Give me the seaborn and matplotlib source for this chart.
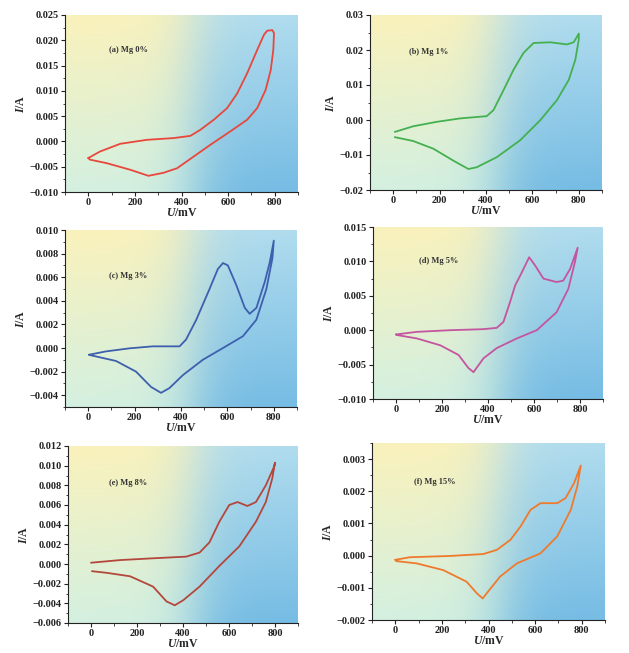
import numpy as np
import pandas as pd
import matplotlib
matplotlib.use("Agg")
import matplotlib.pyplot as plt
import seaborn as sns
from matplotlib.ticker import AutoMinorLocator, FormatStrFormatter

sns.set_theme(style="ticks")
plt.rcParams['font.family'] = ['Liberation Serif', 'DejaVu Serif']
plt.rcParams['font.weight'] = 'bold'
plt.rcParams['mathtext.fontset'] = 'custom'
plt.rcParams['mathtext.it'] = 'Liberation Serif:italic:bold'
plt.rcParams['mathtext.rm'] = 'Liberation Serif:bold'

# ---------------- data ----------------
labels = ["(a) Mg 0%", "(b) Mg 1%", "(c) Mg 3%", "(d) Mg 5%", "(e) Mg 8%", "(f) Mg 15%"]
colors = ["#e8473c", "#45b04f", "#3d5fae", "#c4559f", "#b4473c", "#f07a2c"]

u_a = [0, 50, 137, 252, 366, 438, 481, 539, 596, 639, 682, 725, 754, 768, 790, 797,
       794, 783, 761, 725, 682, 610, 524, 452, 381, 323, 258, 180, 79, 7, 0]
i_a = [-0.00329, -0.0020, -0.00047, 0.00032, 0.00066, 0.0011, 0.0023, 0.0043, 0.0066, 0.0095, 0.0135, 0.0181, 0.0211, 0.0219, 0.0220, 0.0214,
       0.0181, 0.0141, 0.0102, 0.0066, 0.0043, 0.0020, -0.00066, -0.0030, -0.0053, -0.0062, -0.0068, -0.0056, -0.0043, -0.0036, -0.00329]

u_b = [7, 86, 187, 288, 403, 432, 476, 519, 562, 605, 677, 749, 778, 800,
       800, 785, 757, 706, 634, 547, 447, 360, 324, 259, 173, 86, 7]
i_b = [-0.0034, -0.0018, -0.00053, 0.00045, 0.0011, 0.0028, 0.0086, 0.0144, 0.0192, 0.0220, 0.0222, 0.0216, 0.0222, 0.0247,
       0.0230, 0.0172, 0.0115, 0.0057, -0.00004, -0.0058, -0.0106, -0.0135, -0.0140, -0.0116, -0.0082, -0.0060, -0.0049]

u_c = [4, 76, 177, 278, 394, 422, 466, 523, 559, 581, 602, 639, 675, 696, 725, 761, 783, 800,
       794, 768, 725, 667, 581, 494, 408, 350, 314, 271, 206, 120, 19, 4]
i_c = [-0.00057, -0.00029, -0.00003, 0.00014, 0.00014, 0.00072, 0.0024, 0.0050, 0.0067, 0.0072, 0.0070, 0.0053, 0.0034, 0.0029, 0.0034, 0.0056, 0.0073, 0.0091,
       0.0076, 0.0050, 0.0024, 0.0010, 0.0000, -0.0010, -0.0023, -0.0034, -0.0038, -0.0033, -0.0020, -0.0011, -0.00065, -0.00057]

u_d = [0, 91, 236, 380, 438, 467, 496, 518, 547, 579, 605, 641, 698, 727, 757, 790,
       778, 749, 698, 612, 525, 438, 380, 337, 315, 272, 193, 91, 4, 0]
i_d = [-0.00062, -0.00024, 0.0000, 0.00015, 0.00034, 0.0012, 0.0041, 0.0065, 0.0084, 0.0106, 0.0094, 0.0075, 0.0070, 0.0072, 0.0089, 0.0120,
       0.0099, 0.0060, 0.0026, 0.0000, -0.0012, -0.0026, -0.0041, -0.0061, -0.0055, -0.0036, -0.0022, -0.0012, -0.0007, -0.00062]

u_e = [0, 127, 270, 414, 472, 515, 558, 601, 637, 680, 717, 760, 796, 800,
       788, 760, 717, 645, 558, 472, 400, 364, 328, 270, 170, 69, 4]
i_e = [0.00013, 0.0004, 0.00058, 0.00075, 0.00116, 0.0022, 0.0043, 0.0060, 0.0063, 0.0059, 0.0063, 0.0080, 0.0099, 0.0103,
       0.0087, 0.0063, 0.0043, 0.0018, -0.0002, -0.0023, -0.0037, -0.0042, -0.0038, -0.0023, -0.00125, -0.0009, -0.00073]

u_f = [0, 62, 235, 378, 436, 494, 537, 580, 623, 695, 731, 767, 796,
       781, 753, 695, 623, 522, 450, 400, 375, 350, 306, 206, 91, 4, 0]
i_f = [-0.00013, -0.00005, -0.00001, 0.00005, 0.00018, 0.00049, 0.0009, 0.00142, 0.00163, 0.00163, 0.00179, 0.00225, 0.0028,
       0.00215, 0.00142, 0.0006, 0.00007, -0.00024, -0.00065, -0.0011, -0.00133, -0.00117, -0.00081, -0.00045, -0.00024, -0.00017, -0.00013]

x_ticks = [0, 200, 400, 600, 800]
y_lims = [(-0.010, 0.025), (-0.02, 0.03), (-0.005, 0.010), (-0.010, 0.015), (-0.006, 0.012), (-0.002, 0.0035)]
y_ticks = [np.arange(-0.010, 0.0251, 0.005), np.arange(-0.02, 0.031, 0.01), np.arange(-0.004, 0.0101, 0.002),
           np.arange(-0.010, 0.0151, 0.005), np.arange(-0.006, 0.0121, 0.002), np.arange(-0.002, 0.00301, 0.001)]
y_fmt = ["%.3f", "%.2f", "%.3f", "%.3f", "%.3f", "%.3f"]
series = [(u_a, i_a), (u_b, i_b), (u_c, i_c), (u_d, i_d), (u_e, i_e), (u_f, i_f)]

# axes boxes in pixels: left, right, top, bottom
W, H = 629, 653
boxes = [(65, 298, 15, 192), (370, 602, 15, 190),
         (65, 297, 230, 407), (373, 603, 227, 399),
         (68, 298, 446, 623), (372, 605, 443, 620)]
label_pos = [(0.19, 0.79), (0.17, 0.78), (0.19, 0.73), (0.20, 0.79), (0.18, 0.78), (0.18, 0.77)]

# background gradient (scan tint)
ny, nx = 60, 120
xx = np.linspace(0, 1, nx)[None, :]
yy = np.linspace(1, 0, ny)[:, None]
s = 1 / (1 + np.exp(-(xx - 0.55) / 0.07))
tl = np.array([250, 242, 188]) / 255
bl = np.array([212, 240, 224]) / 255
tr = np.array([176, 220, 238]) / 255
br = np.array([118, 188, 228]) / 255
left = tl * yy[..., None] + bl * (1 - yy[..., None])
right = tr * yy[..., None] + br * (1 - yy[..., None])
grad = left * (1 - s[..., None]) + right * s[..., None]

fig = plt.figure(figsize=(W / 100, H / 100), dpi=100)
fig.patch.set_facecolor("white")

for k, ((l, r, t, b), (u, cur)) in enumerate(zip(boxes, series)):
    ax = fig.add_axes([l / W, 1 - b / H, (r - l) / W, (b - t) / H])
    ax.imshow(grad, extent=[0, 1, 0, 1], transform=ax.transAxes, aspect="auto", zorder=0)
    df = pd.DataFrame({"U": u, "I": cur})
    sns.lineplot(data=df, x="U", y="I", sort=False, estimator=None, color=colors[k], lw=1.3, ax=ax, zorder=3,
                 solid_joinstyle="round", solid_capstyle="round")
    ax.set_xlim(-100, 900)
    ax.set_ylim(*y_lims[k])
    ax.set_xticks(x_ticks)
    ax.set_yticks(y_ticks[k])
    ax.yaxis.set_major_formatter(FormatStrFormatter(y_fmt[k]))
    ax.xaxis.set_minor_locator(AutoMinorLocator(2))
    ax.yaxis.set_minor_locator(AutoMinorLocator(2))
    for sp in ["top", "right"]:
        ax.spines[sp].set_visible(False)
    for sp in ["left", "bottom"]:
        ax.spines[sp].set_linewidth(0.8)
        ax.spines[sp].set_color("#222222")
    ax.tick_params(axis="both", which="major", direction="out", length=3, width=0.8, labelsize=7.5, pad=1.5, colors="#222222")
    ax.tick_params(axis="both", which="minor", direction="out", length=1.8, width=0.6, colors="#222222")
    yl = [tl_.get_text() for tl_ in ax.get_yticklabels()]
    ax.set_yticklabels([t_.replace("-", "\u2212") for t_ in yl])
    for lab in ax.get_xticklabels() + ax.get_yticklabels():
        lab.set_fontweight("bold")
    ax.set_xlabel(r"$\mathit{U}$/mV", fontsize=8.5, fontweight="bold", labelpad=0)
    ax.set_ylabel(r"$\mathit{I}$/A", fontsize=8.5, fontweight="bold", labelpad=2)
    ax.text(label_pos[k][0], label_pos[k][1], labels[k], transform=ax.transAxes,
            fontsize=6, fontweight="bold", color="#333333", zorder=4)

fig.savefig("out.png", dpi=100)
